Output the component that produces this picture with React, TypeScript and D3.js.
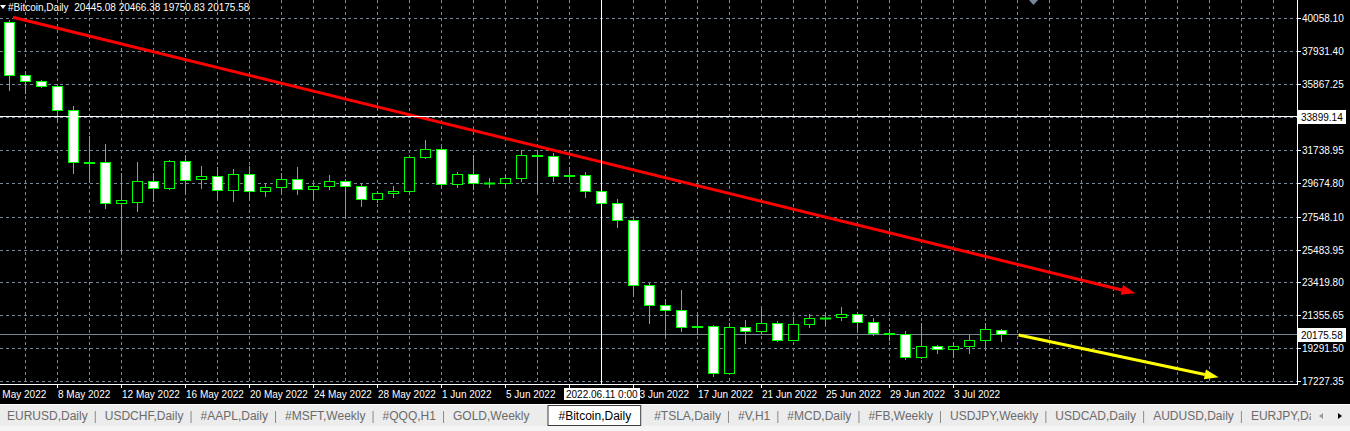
import React, { useMemo } from 'react';
import * as d3 from 'd3';

// Daily candles, 5 May 2022 .. 6 Jul 2022
const firstDay = new Date(Date.UTC(2022, 4, 5));
const days = d3.utcDays(firstDay, new Date(Date.UTC(2022, 6, 7)));

const open = [
  39760, 36430, 36050, 35740, 34230, 30960, 30960, 28390, 28490, 29770,
  29330, 31030, 29900, 30080, 29200, 30210, 29140, 29390, 29900, 29300,
  29460, 29770, 29460, 28680, 29020, 29160, 31280, 31780, 29580, 30230,
  29650, 29690, 29960, 31400, 31360, 30120, 30150, 29140, 28390, 27320,
  23240, 21980, 21670, 20640, 20660, 17750, 20600, 20390, 20850, 19820,
  20790, 21160, 21230, 21420, 20910, 20220, 20200, 18720, 19410, 19220,
  19410, 19780, 20445.08,
];
const high = [
  39900, 36680, 36130, 35760, 34500, 32615, 32110, 30270, 30960, 30270,
  31110, 31420, 30750, 30650, 30540, 30730, 29640, 30290, 30670, 29600,
  30170, 29900, 29640, 29160, 29470, 31420, 32360, 31940, 30370, 31420,
  29960, 30230, 31740, 31740, 31570, 30650, 30340, 29430, 28640, 27510,
  23360, 22360, 22940, 21310, 20760, 20850, 21060, 21750, 21010, 21270,
  21440, 21580, 21860, 21580, 21170, 20470, 20370, 20890, 19490, 19700,
  20120, 20850, 20466.38,
];
const low = [
  35500, 35300, 35670, 33580, 30270, 29745, 28110, 25250, 27900, 28550,
  29300, 29020, 29370, 28600, 28550, 28600, 28870, 29020, 28990, 28600,
  29300, 27480, 28240, 28470, 28800, 29100, 31210, 29330, 29430, 29270,
  29430, 29540, 29810, 29120, 29810, 29745, 28800, 27970, 26880, 22580,
  20850, 19970, 20370, 20220, 17560, 17700, 19630, 20220, 19760, 19790,
  20640, 20740, 21060, 20320, 20120, 19800, 18610, 18690, 18970, 18750,
  19000, 19220, 19750.83,
];
const close = [
  36430, 36050, 35740, 34230, 30960, 30940, 28390, 28580, 29770, 29330,
  31030, 29870, 30080, 29200, 30210, 29140, 29390, 29900, 29300, 29460,
  29770, 29460, 28680, 29020, 29160, 31280, 31780, 29580, 30230, 29640,
  29690, 29960, 31400, 31360, 30120, 30150, 29180, 28390, 27320, 23240,
  21980, 21670, 20640, 20660, 17750, 20600, 20390, 20850, 19820, 20790,
  21160, 21190, 21420, 20910, 20220, 20200, 18720, 19410, 19220, 19410,
  19780, 20470, 20175.58,
];

const priceTicks = [
  40058.1, 37931.4, 35867.25, 33803.1, 31738.95, 29674.8, 27548.1,
  25483.95, 23419.8, 21355.65, 19291.5, 17227.35,
];
const dateTicks = [
  '2022-05-04', '2022-05-08', '2022-05-12', '2022-05-16', '2022-05-20',
  '2022-05-24', '2022-05-28', '2022-06-01', '2022-06-05', '2022-06-09',
  '2022-06-13', '2022-06-17', '2022-06-21', '2022-06-25', '2022-06-29',
  '2022-07-03',
];

const redTrend = [
  { t: '2022-05-05T06:00:00Z', price: 40070 },
  { t: '2022-07-14T09:36:00Z', price: 22735 },
];
const yellowTrend = [
  { t: '2022-07-07T02:24:00Z', price: 20116 },
  { t: '2022-07-19T14:24:00Z', price: 17459 },
];

const crossDate = '2022-06-11';
const crossPrice = 33899.14;
const bidPrice = 20175.58;
const shiftDate = '2022-07-08';
const headerText = '#Bitcoin,Daily  20445.08 20466.38 19750.83 20175.58';

const tabs = [
  'EURUSD,Daily', 'USDCHF,Daily', '#AAPL,Daily', '#MSFT,Weekly', '#QQQ,H1',
  'GOLD,Weekly', '#Bitcoin,Daily', '#TSLA,Daily', '#V,H1', '#MCD,Daily',
  '#FB,Weekly', 'USDJPY,Weekly', 'USDCAD,Daily', 'AUDUSD,Daily', 'EURJPY,Daily',
];
const activeTab = '#Bitcoin,Daily';

const W = 1350;
const H = 431;
const plotRight = 1297;
const plotBottom = 384;
const gridColor = '#778899';
const green = '#00ff00';
const font = '"Liberation Sans", Arial, sans-serif';

function arrow(x1: number, y1: number, x2: number, y2: number, len: number, half: number) {
  const dx = x2 - x1;
  const dy = y2 - y1;
  const d = Math.hypot(dx, dy);
  const ux = dx / d;
  const uy = dy / d;
  const bx = x2 - ux * len;
  const by = y2 - uy * len;
  const pts = [
    [x2, y2],
    [bx - uy * half, by + ux * half],
    [bx + uy * half, by - ux * half],
  ];
  return { bx, by, points: pts.map(p => p.join(',')).join(' ') };
}

export default function App() {
  const x = d3.scaleUtc()
    .domain([firstDay, new Date(Date.UTC(2022, 4, 6))])
    .range([9, 25]);
  const y = d3.scaleLinear()
    .domain([17227.35, 40058.1])
    .range([381, 17.5]);
  const fmt = d3.utcFormat('%-d %b %Y');
  const px = (d: Date) => Math.round(x(d));
  const py = (p: number) => Math.round(y(p));

  // vertical grid every other candle across the whole plot
  const gridDays = d3.utcDays(new Date(Date.UTC(2022, 4, 6)), new Date(Date.UTC(2022, 8, 1)), 2)
    .filter(d => x(d) < plotRight);

  const tabWidths = useMemo(() => {
    const ctx = document.createElement('canvas').getContext('2d')!;
    ctx.font = `12px ${font}`;
    return tabs.map(t => ctx.measureText(t).width);
  }, []);

  const tabEls: React.ReactNode[] = [];
  let tx = 7;
  tabs.forEach((t, i) => {
    const w = tabWidths[i];
    const active = t === activeTab;
    const prevActive = i > 0 && tabs[i - 1] === activeTab;
    const nextActive = tabs[i + 1] === activeTab;
    if (active) {
      tabEls.push(
        <rect key={'a' + i} x={tx - 10.5} y={405.5} width={w + 20} height={20}
          fill="#ffffff" stroke="#3c3c3c" strokeWidth={1} />
      );
    } else if (i > 0 && !prevActive) {
      tabEls.push(
        <line key={'s' + i} x1={tx - 9.5} x2={tx - 9.5} y1={411} y2={423}
          stroke="#8a8a8a" strokeWidth={1} />
      );
    }
    tabEls.push(
      <text key={'t' + i} x={tx} y={420} fontSize={12} fill={active ? '#000' : '#6b6b6b'}>{t}</text>
    );
    tx += w + (nextActive ? 29 : active ? 23 : 17.1);
  });

  const redA = arrow(
    x(new Date(redTrend[0].t)), y(redTrend[0].price),
    x(new Date(redTrend[1].t)), y(redTrend[1].price), 14, 5
  );
  const yelA = arrow(
    x(new Date(yellowTrend[0].t)), y(yellowTrend[0].price),
    x(new Date(yellowTrend[1].t)), y(yellowTrend[1].price), 14, 5
  );

  const cx = px(new Date(crossDate + 'T00:00:00Z'));
  const cy = py(crossPrice);
  const by = py(bidPrice);
  const sx = px(new Date(shiftDate + 'T00:00:00Z'));

  return (
    <svg width={W} height={H} style={{ position: 'fixed', left: 0, top: 0, display: 'block' }}
      fontFamily={font}>
      <rect x={0} y={0} width={W} height={404} fill="#000" />

      {/* grid */}
      {priceTicks.map(p => (
        <line key={'hg' + p} x1={0} x2={plotRight} y1={py(p) + 0.5} y2={py(p) + 0.5}
          stroke={gridColor} strokeDasharray="3,3" />
      ))}
      {gridDays.map(d => (
        <line key={'vg' + d.getTime()} x1={px(d) + 0.5} x2={px(d) + 0.5} y1={0} y2={plotBottom}
          stroke={gridColor} strokeDasharray="3,3" />
      ))}

      {/* bid line */}
      <line x1={0} x2={plotRight} y1={by + 0.5} y2={by + 0.5} stroke={gridColor} />

      {/* candles */}
      {days.map((d, i) => {
        const c = px(d);
        const o = y(open[i]);
        const cl = y(close[i]);
        const top = Math.round(Math.min(o, cl));
        const bot = Math.round(Math.max(o, cl));
        const bull = close[i] > open[i];
        return (
          <g key={'c' + i}>
            <line x1={c + 0.5} x2={c + 0.5} y1={py(high[i])} y2={py(low[i]) + 1} stroke={green} />
            {bot - top >= 1 ? (
              <rect x={c - 4.5} y={top + 0.5} width={10} height={bot - top}
                fill={bull ? '#000' : '#fff'} stroke={green} />
            ) : (
              <line x1={c - 5} x2={c + 6} y1={top + 0.5} y2={top + 0.5} stroke={green} strokeWidth={2} />
            )}
          </g>
        );
      })}

      {/* trend lines */}
      <line x1={x(new Date(redTrend[0].t))} y1={y(redTrend[0].price)} x2={redA.bx} y2={redA.by}
        stroke="#ff0000" strokeWidth={3} />
      <polygon points={redA.points} fill="#ff0000" />
      <line x1={x(new Date(yellowTrend[0].t))} y1={y(yellowTrend[0].price)} x2={yelA.bx} y2={yelA.by}
        stroke="#ffff00" strokeWidth={3} />
      <polygon points={yelA.points} fill="#ffff00" />

      {/* chart shift marker */}
      <polygon points={`${sx - 4},0 ${sx + 5},0 ${sx + 0.5},5`} fill={gridColor} />

      {/* crosshair */}
      <line x1={cx + 0.5} x2={cx + 0.5} y1={0} y2={plotBottom} stroke="#fff" />
      <line x1={0} x2={plotRight} y1={cy + 0.5} y2={cy + 0.5} stroke="#fff" />

      {/* borders */}
      <line x1={plotRight + 0.5} x2={plotRight + 0.5} y1={0} y2={plotBottom + 1} stroke="#fff" />
      <line x1={0} x2={plotRight + 1} y1={plotBottom + 0.5} y2={plotBottom + 0.5} stroke="#fff" />

      {/* price axis */}
      {priceTicks.map(p => (
        <g key={'pl' + p}>
          <line x1={plotRight} x2={plotRight + 4} y1={py(p) + 0.5} y2={py(p) + 0.5} stroke="#fff" />
          <text x={plotRight + 5} y={py(p) + 4} fontSize={10} fill="#fff">{p.toFixed(2)}</text>
        </g>
      ))}
      {[crossPrice, bidPrice].map(p => (
        <g key={'box' + p}>
          <rect x={plotRight + 1} y={py(p) - 6} width={48} height={14} fill="#fff" />
          <text x={plotRight + 4} y={py(p) + 5} fontSize={10} fill="#000">{p.toFixed(2)}</text>
        </g>
      ))}

      {/* date axis */}
      {dateTicks.map(s => {
        const d = new Date(s + 'T00:00:00Z');
        const t = px(d);
        return (
          <g key={'dt' + s}>
            <line x1={t + 0.5} x2={t + 0.5} y1={plotBottom} y2={plotBottom + 4} stroke="#fff" />
            <text x={t + 1} y={398} fontSize={10} fill="#fff">{fmt(d)}</text>
          </g>
        );
      })}
      <rect x={cx - 37} y={388} width={76} height={12} fill="#fff" />
      <text x={cx - 35} y={398} fontSize={10} fill="#000">
        {d3.utcFormat('%Y.%m.%d 0:00')(new Date(crossDate + 'T00:00:00Z'))}
      </text>

      {/* header */}
      <polygon points="0,5 6,5 3,9" fill="#fff" />
      <text x={8} y={11} fontSize={10} fill="#fff" style={{ whiteSpace: 'pre' }}>{headerText}</text>

      {/* tab bar */}
      <rect x={0} y={404} width={W} height={27} fill="#ececec" />
      <line x1={0} x2={W} y1={404.5} y2={404.5} stroke="#fff" />
      <rect x={0} y={426} width={W} height={5} fill="#f5f5f5" />
      <g clipPath="url(#tabclip)">{tabEls}</g>
      <defs>
        <clipPath id="tabclip"><rect x={0} y={404} width={1311} height={27} /></clipPath>
      </defs>
      <rect x={1311} y={405} width={39} height={21} fill="#ececec" />
      <polygon points="1319,416 1323,413 1323,419" fill="#9a9a9a" />
      <polygon points="1342,416 1338,413 1338,419" fill="#000" />
    </svg>
  );
}
